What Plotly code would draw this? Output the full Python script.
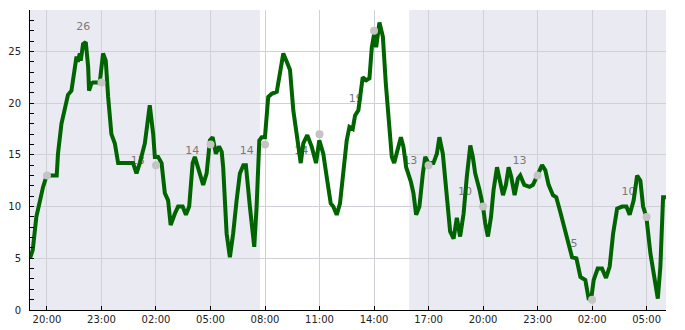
import pandas as pd
import plotly.graph_objects as go

START = "2021-01-01 19:04"
END = "2021-01-03 06:04"

# hours since START and temperature values
hours = [0.00, 0.15, 0.35, 0.53, 0.72, 0.90, 0.94, 1.47, 1.54, 1.73, 1.91, 2.09, 2.28, 2.46, 2.56, 2.63,
         2.74, 2.79, 2.92, 3.07, 3.20, 3.25, 3.38, 3.47, 3.84, 4.02, 4.17, 4.30, 4.48, 4.67, 4.85, 5.67,
         5.86, 6.04, 6.32, 6.59, 6.78, 6.87, 7.05, 7.24, 7.42, 7.60, 7.74, 7.97, 8.15, 8.40, 8.58, 8.76,
         8.95, 9.07, 9.26, 9.53, 9.72, 9.90, 10.05, 10.23, 10.40, 10.55, 10.63, 10.82, 11.00, 11.18,
         11.37, 11.55, 11.74, 11.88, 12.10, 12.34, 12.47, 12.62, 12.75, 12.93, 13.11, 13.30, 13.58,
         13.76, 13.94, 14.13, 14.31, 14.49, 14.71, 14.90, 15.04, 15.26, 15.50, 15.74, 15.92, 16.14,
         16.36, 16.55, 16.69, 16.88, 17.06, 17.28, 17.43, 17.58, 17.76, 17.89, 18.07, 18.31, 18.50,
         18.68, 18.81, 18.94, 19.05, 19.23, 19.42, 19.58, 19.76, 19.91, 20.04, 20.22, 20.41, 20.55,
         20.70, 20.96, 21.10, 21.25, 21.43, 21.62, 21.75, 21.93, 22.20, 22.39, 22.53, 22.72, 22.90,
         23.12, 23.31, 23.49, 23.67, 23.86, 24.04, 24.23, 24.37, 24.50, 24.74, 24.93, 25.05, 25.20,
         25.37, 25.51, 25.70, 25.84, 26.03, 26.19, 26.34, 26.48, 26.67, 26.85, 26.98, 27.20, 27.49,
         27.68, 27.90, 28.18, 28.36, 28.54, 28.78, 28.96, 29.18, 29.40, 29.59, 29.83, 30.07, 30.29,
         30.56, 30.74, 30.88, 31.02, 31.24, 31.48, 31.70, 31.90, 32.09, 32.31, 32.58, 32.82, 33.00,
         33.22, 33.41, 33.59, 33.74, 33.92, 34.14, 34.36, 34.55, 34.69, 34.84, 35.00]
temps = [5.0, 5.8, 9.0, 10.6, 11.9, 12.9, 13.0, 13.0, 15.1, 18.0, 19.3, 20.8, 21.2, 23.5, 24.5, 24.0,
         24.8, 24.1, 25.7, 25.9, 23.5, 21.2, 21.9, 22.0, 22.0, 24.8, 24.1, 20.6, 17.0, 16.1, 14.2, 14.2,
         13.2, 14.2, 16.1, 19.8, 17.0, 14.8, 14.8, 14.2, 11.3, 10.6, 8.2, 9.3, 10.0, 10.0, 9.2, 10.0,
         14.2, 14.8, 13.8, 12.1, 13.2, 16.4, 16.7, 15.1, 15.8, 15.3, 13.8, 7.4, 5.1, 7.4,
         10.6, 13.2, 14.0, 14.0, 10.0, 6.1, 10.0, 16.4, 16.7, 16.7, 20.6, 20.9, 21.1,
         22.8, 24.8, 24.0, 23.2, 19.3, 16.4, 14.2, 16.1, 16.9, 15.8, 14.2, 16.4, 15.1,
         12.5, 10.3, 10.0, 9.2, 10.3, 13.8, 16.4, 17.7, 17.5, 18.8, 19.3, 22.5, 22.2,
         22.4, 25.4, 26.7, 25.4, 27.8, 26.4, 21.9, 17.7, 14.8, 14.2, 15.4, 16.7, 15.8,
         13.8, 12.4, 11.3, 9.2, 10.0, 13.2, 14.8, 14.2, 14.2, 15.1, 16.7, 15.1, 11.3,
         7.6, 6.9, 8.9, 7.1, 9.3, 12.9, 15.9, 14.8, 13.2, 11.6, 10.0, 8.4, 7.1,
         9.0, 11.6, 13.8, 12.5, 11.1, 12.1, 13.8, 12.9, 11.1, 12.7, 13.0, 12.1, 11.9,
         12.1, 12.9, 14.0, 13.5, 12.1, 11.1, 10.9, 9.5, 8.0, 6.8, 5.1, 5.0, 3.2,
         2.9, 1.1, 1.0, 2.9, 4.0, 4.0, 3.1, 4.2, 7.4, 9.8, 10.0, 10.0, 9.2,
         10.6, 13.0, 12.5, 10.0, 9.0, 5.5, 2.9, 1.1, 4.2, 10.9, 10.9]

marker_times = ["2021-01-01 20:00", "2021-01-01 23:00", "2021-01-02 02:00", "2021-01-02 05:00",
                "2021-01-02 08:00", "2021-01-02 11:00", "2021-01-02 14:00", "2021-01-02 17:00",
                "2021-01-02 20:00", "2021-01-02 23:00", "2021-01-03 02:00", "2021-01-03 05:00"]
marker_values = [13, 22, 14, 16, 16, 17, 27, 14, 10, 13, 1, 9]

label_times = ["2021-01-01 22:00", "2021-01-02 01:00", "2021-01-02 04:00", "2021-01-02 07:00",
               "2021-01-02 10:00", "2021-01-02 13:00", "2021-01-02 16:00", "2021-01-02 19:00",
               "2021-01-02 22:00", "2021-01-03 01:00", "2021-01-03 04:00"]
label_values = [26, 13, 14, 14, 14, 19, 13, 10, 13, 5, 10]

night_starts = ["2021-01-01 19:04", "2021-01-02 15:56"]
night_ends = ["2021-01-02 07:43", "2021-01-03 06:04"]

start = pd.Timestamp(START)
times = [start + pd.Timedelta(hours=h) for h in hours]

fig = go.Figure()
# value labels drawn first so the temperature line passes over them
fig.add_trace(go.Scatter(x=pd.to_datetime(label_times), y=label_values, mode="markers+text",
                         text=[str(v) for v in label_values], textposition="top center",
                         marker=dict(size=12, color="rgba(0,0,0,0)"),
                         textfont=dict(color="#7a7a7a", size=11, family="DejaVu Sans"),
                         hoverinfo="skip"))
fig.add_trace(go.Scatter(x=times, y=temps, mode="lines",
                         line=dict(color="#006400", width=4), hoverinfo="skip"))
fig.add_trace(go.Scatter(x=pd.to_datetime(marker_times), y=marker_values, mode="markers",
                         marker=dict(color="#c4c4c4", size=8)))

for s, e in zip(night_starts, night_ends):
    fig.add_shape(type="rect", xref="x", yref="paper", x0=s, x1=e, y0=0, y1=1,
                  fillcolor="#eaeaf2", line=dict(width=0), layer="below")

fig.update_layout(
    width=685, height=330,
    margin=dict(l=30, r=19, t=10, b=20, autoexpand=False),
    paper_bgcolor="white", plot_bgcolor="white",
    showlegend=False,
    font=dict(family="DejaVu Sans", size=10, color="#222222"),
)
fig.update_xaxes(
    range=[START, END], type="date", automargin=False,
    tick0="2021-01-01 20:00", dtick=3 * 3600 * 1000, tickformat="%H:%M",
    ticks="inside", ticklen=4, tickcolor="black",
    showline=True, linecolor="black", linewidth=1,
    showgrid=True, gridcolor="#d0d0d6", gridwidth=1, zeroline=False,
)
fig.update_yaxes(
    range=[0, 29], dtick=5, tick0=0, automargin=False,
    ticks="inside", ticklen=4, tickcolor="black", ticklabelstandoff=6,
    minor=dict(dtick=1, ticks="inside", ticklen=4, tickcolor="black", showgrid=False),
    showline=True, linecolor="black", linewidth=1,
    showgrid=True, gridcolor="#d0d0d6", gridwidth=1, zeroline=False,
)

fig.write_html("out.html")
